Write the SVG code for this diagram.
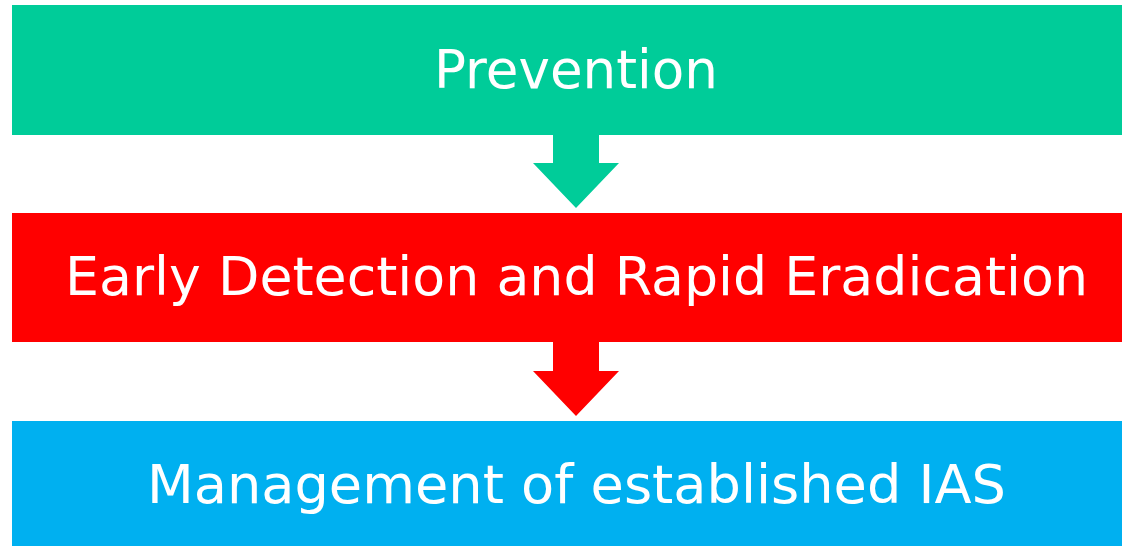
<svg xmlns="http://www.w3.org/2000/svg" width="1122" height="546" viewBox="0 0 1122 546">
<style>
.lbl{font-family:"DejaVu Sans","Verdana",sans-serif;font-size:53px;fill:#ffffff;text-anchor:middle}
</style>
<rect width="1122" height="546" fill="#ffffff"/>
<g id="connectors">
<polygon points="553,130 599,130 599,163 619,163 576,208 533,163 553,163" fill="#00CC99"/>
<polygon points="553,337 599,337 599,371 619,371 576,416 533,371 553,371" fill="#FF0000"/>
</g>
<g id="prevention">
<rect x="12" y="5" width="1110" height="130" fill="#00CC99"/>
<text class="lbl" x="576" y="88" textLength="284" lengthAdjust="spacingAndGlyphs">Prevention</text>
</g>
<g id="early">
<rect x="12" y="213" width="1110" height="129" fill="#FF0000"/>
<text class="lbl" x="576.5" y="295" textLength="1023" lengthAdjust="spacingAndGlyphs">Early Detection and Rapid Eradication</text>
</g>
<g id="management">
<rect x="12" y="421" width="1110" height="125" fill="#00B0F0"/>
<text class="lbl" x="576.5" y="503" textLength="859" lengthAdjust="spacingAndGlyphs">Management of established IAS</text>
</g>
</svg>
